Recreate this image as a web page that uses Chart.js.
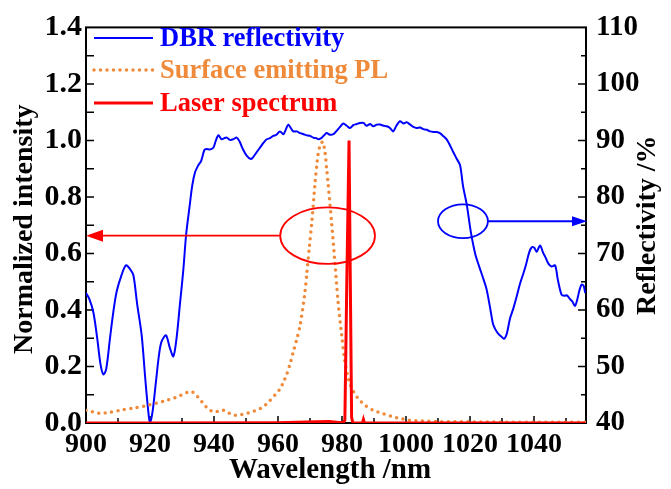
<!DOCTYPE html>
<html>
<head>
<meta charset="utf-8">
<script src="https://cdn.jsdelivr.net/npm/chart.js@4.4.0/dist/chart.umd.min.js"></script>
<style>
    html, body { margin: 0; padding: 0; background: #fff; }
</style>
</head>
<body>
<canvas id="specChart" width="671" height="489"></canvas>
<script>
// Wavelength (nm) / reflectivity (%) of the DBR
const dbrWl = [900, 901, 902.3, 903.5, 904.5, 905.4, 906.3, 907.5, 908.5, 909.6, 911, 912.5, 913.8, 914.8, 916, 917.4, 918.5, 919.3, 920, 920.8,
    921.8, 922.8, 923.6, 925, 926.2, 927.3, 928.3, 929.4, 930.4, 931.3, 932.3, 933.2, 934.1, 935.1, 936, 937, 937.7, 938.7, 939.8, 940.6,
    941.4, 942.4, 943.2, 944, 945, 946, 947.1, 948, 949, 950.2, 951.5, 952.3, 953.3, 954.5, 955.5, 956.5, 957.5, 958.5, 959.5, 960.6,
    961.7, 962.5, 963.2, 964, 964.8, 965.8, 966.9, 968, 969, 970, 971, 972, 972.6, 973.5, 974.4, 975.2, 976.2, 977.3, 978.3, 979.4,
    980.4, 981.5, 982.5, 983.5, 984.6, 985.6, 986.7, 987.7, 988.8, 989.8, 990.9, 991.9, 993, 994, 995, 996, 997, 998.1, 999.2, 1000.2,
    1001.3, 1002.3, 1003.3, 1004.4, 1005.4, 1006.5, 1007.5, 1008.6, 1009.6, 1010.6, 1011.6, 1012.7, 1013.7, 1014.8, 1015.8, 1016.9, 1017.8, 1019, 1020.2, 1021.6,
    1022.8, 1024, 1025.2, 1026.4, 1027.2, 1027.8, 1028.8, 1029.8, 1030.6, 1031.5, 1032.5, 1033.5, 1034.5, 1035.6, 1036.7, 1037.5, 1038.5, 1039.3, 1040.1, 1040.8,
    1041.9, 1042.8, 1043.6, 1044.5, 1045.5, 1046.6, 1047.4, 1048.6, 1049.5, 1050.3, 1051.3, 1052, 1052.8, 1053.5, 1054.2, 1054.9, 1055.5, 1056];
const dbrR = [63, 62, 59.6, 55, 50.5, 48.6, 49.5, 55, 59.5, 63.3, 66, 67.9, 67.2, 66.2, 61, 55.5, 48, 43, 40, 42,
    47, 52, 54.4, 55.5, 53.3, 51.8, 55, 61.3, 67, 73.4, 78, 82, 84.4, 85.6, 86.4, 88.3, 88.5, 88.4, 88.7, 90,
    90.9, 90.2, 90.4, 90.5, 90.1, 90.2, 90.5, 89.8, 88.5, 87.3, 86.7, 87.1, 87.9, 88.8, 89.6, 90.2, 90.4, 90.8, 91, 91.6,
    91.1, 92, 92.8, 92.2, 91.6, 91.6, 91.3, 91.1, 90.9, 90.8, 90.5, 90.4, 90.2, 90.4, 90.9, 91.3, 91, 91.1, 91.7, 92.4,
    93, 92.6, 92.2, 92.7, 92.9, 93.1, 93.1, 92.6, 92.9, 92.5, 92.8, 92.8, 92.6, 92.5, 92.2, 91.6, 92.6, 93.4, 93, 93.2,
    92.8, 92.4, 92.2, 92.3, 92, 91.9, 91.6, 91.5, 91.5, 91.3, 90.8, 90.2, 89.2, 87.9, 86.8, 85.6, 82, 78.6, 74, 70,
    67.8, 65.8, 63.6, 60, 57.5, 56.7, 55.8, 55.3, 54.9, 55.8, 58.5, 60.2, 62.2, 64.6, 66.5, 68, 70.2, 71.1, 71, 70.3,
    71.4, 70.2, 69.3, 68.2, 67.7, 67.9, 65.5, 62.7, 62.5, 62.6, 61.9, 61.5, 60.7, 61.8, 63.5, 64.5, 64.3, 63];

// Surface emitting photoluminescence (normalized)
const plWl = [900, 902, 904.4, 907, 910.6, 915, 919, 922, 925.2, 927.5, 929.4, 931, 932.5, 933.3, 934, 935.3, 936.7, 938, 939.8, 941.5,
    942.9, 944.5, 946, 948, 950.2, 952.5, 954.4, 956, 957.5, 959, 960.6, 961.7, 962.7, 963.8, 964.8, 965.9, 966.9, 968.4, 969, 969.8,
    970.5, 970.8, 971.6, 972.1, 972.6, 973.3, 974, 974.7, 975.2, 975.7, 976.8, 977.8, 978.8, 979.9, 980.9, 981.7, 982.5, 984, 985.6, 987.5,
    989.8, 993, 996, 998.5, 1001, 1005, 1010, 1020, 1030, 1040, 1050, 1056];
const plInt = [0.045, 0.040, 0.034, 0.037, 0.045, 0.053, 0.062, 0.070, 0.080, 0.088, 0.097, 0.105, 0.112, 0.110, 0.103, 0.088, 0.068, 0.052, 0.039, 0.042,
    0.045, 0.036, 0.028, 0.029, 0.034, 0.042, 0.051, 0.063, 0.080, 0.098, 0.120, 0.145, 0.172, 0.210, 0.253, 0.298, 0.345, 0.461, 0.530, 0.623,
    0.703, 0.740, 0.853, 0.910, 0.957, 0.986, 0.995, 0.957, 0.900, 0.842, 0.703, 0.565, 0.426, 0.311, 0.218, 0.170, 0.138, 0.103, 0.080, 0.060,
    0.045, 0.032, 0.022, 0.015, 0.010, 0.007, 0.005, 0.004, 0.003, 0.003, 0.003, 0.003];

// Lasing line (normalized)
const laserWl = [900, 920, 960, 972, 976, 979, 980.5, 980.9, 981.5, 982.2, 982.6, 983.0, 983.4, 986.4, 986.7, 987, 1056];
const laserInt = [0, 0, 0.001, 0.004, 0.005, 0.002, 0.003, 0.01, 0.5, 1.0, 0.5, 0.02, 0, 0, 0.012, 0, 0];

const seriesLabels = ['DBR reflectivity', 'Surface emitting PL', 'Laser spectrum'];
const seriesColors = ['#0000ff', '#ef8a3b', '#ff0000'];

const xTicks = [900, 920, 940, 960, 980, 1000, 1020, 1040];
const yTicks = [0, 0.2, 0.4, 0.6, 0.8, 1.0, 1.2, 1.4];
const rTicks = [40, 50, 60, 70, 80, 90, 100, 110];

// ellipses marking which curve belongs to which axis: [x nm, y, half-width nm, half-height]
const plMark = [975.5, 0.663, 14.8, 0.1];
const dbrMark = [1017.8, 75.7, 7.8, 3.0];

const serif = "'Liberation Serif', 'Times New Roman', serif";

function pts(xs, ys) {
    return xs.map((x, i) => ({ x: x, y: ys[i] }));
}

function fixTicks(list) {
    return scale => { scale.ticks = list.map(v => ({ value: v })); };
}

// frame + inward ticks go under the curves
const frame = {
    id: 'frame',
    beforeDatasetsDraw(chart) {
        const c = chart.ctx;
        const a = chart.chartArea;
        const sx = chart.scales.x, sy = chart.scales.y, sr = chart.scales.yR;
        c.save();
        c.strokeStyle = '#000';
        c.lineWidth = 2;
        c.strokeRect(a.left, a.top, a.right - a.left, a.bottom - a.top);

        c.lineWidth = 1.5;
        c.beginPath();
        for (let v = 910; v <= 1050; v += 10) {
            const px = sx.getPixelForValue(v);
            const len = v % 20 === 0 ? 7 : 5;
            c.moveTo(px, a.bottom); c.lineTo(px, a.bottom - len);
        }
        for (let i = 1; i < 14; i++) {
            const py = sy.getPixelForValue(i / 10);
            c.moveTo(a.left, py); c.lineTo(a.left + 8, py);
        }
        for (let v = 45; v < 110; v += 5) {
            const py = sr.getPixelForValue(v);
            const len = v % 10 === 0 ? 8 : 5;
            c.moveTo(a.right, py); c.lineTo(a.right - len, py);
        }
        c.stroke();
        c.restore();
    }
};

// titles, legend, axis markers
const decor = {
    id: 'decor',
    afterDatasetsDraw(chart) {
        const c = chart.ctx;
        const a = chart.chartArea;
        const sx = chart.scales.x, sy = chart.scales.y, sr = chart.scales.yR;
        c.save();

        // axis titles
        c.fillStyle = '#000';
        c.textAlign = 'center';
        c.textBaseline = 'middle';
        c.font = 'bold 29px ' + serif;
        c.fillText('Wavelength /nm', (a.left + a.right) / 2 - 6, 471);
        c.font = 'bold 28px ' + serif;
        c.save();
        c.translate(25, (a.top + a.bottom) / 2 + 4);
        c.rotate(-Math.PI / 2);
        c.fillText('Normalized intensity', 0, 0);
        c.restore();
        c.save();
        c.translate(648, (a.top + a.bottom) / 2);
        c.rotate(-Math.PI / 2);
        c.fillText('Reflectivity /%', 0, 0);
        c.restore();

        // legend
        const rows = [38, 70, 103];
        chart.data.datasets.forEach((ds, i) => {
            const y = rows[i];
            c.beginPath();
            c.strokeStyle = ds.borderColor;
            c.lineWidth = ds.borderWidth;
            c.lineCap = ds.borderCapStyle || 'butt';
            c.setLineDash(ds.borderDash || []);
            c.moveTo(a.left + 8, y);
            c.lineTo(a.left + 67, y);
            c.stroke();
            c.setLineDash([]);
            c.fillStyle = ds.borderColor;
            c.font = 'bold 26.5px ' + serif;
            c.textAlign = 'left';
            c.textBaseline = 'middle';
            c.fillText(ds.label, a.left + 74, y + 1);
        });

        // ellipse + arrow for the PL curve (left axis)
        c.lineCap = 'butt';
        const ex = sx.getPixelForValue(plMark[0]), ey = sy.getPixelForValue(plMark[1]);
        const erx = sx.getPixelForValue(plMark[0] + plMark[2]) - ex;
        const ery = sy.getPixelForValue(plMark[1] - plMark[3]) - ey;
        c.strokeStyle = '#ff0000';
        c.fillStyle = '#ff0000';
        c.lineWidth = 1.8;
        c.beginPath();
        c.ellipse(ex, ey, erx, ery, 0, 0, Math.PI * 2);
        c.stroke();
        c.beginPath();
        c.moveTo(ex - erx, ey);
        c.lineTo(a.left + 14, ey);
        c.stroke();
        c.beginPath();
        c.moveTo(a.left, ey);
        c.lineTo(a.left + 17, ey - 6);
        c.lineTo(a.left + 17, ey + 6);
        c.closePath();
        c.fill();

        // ellipse + arrow for the DBR curve (right axis)
        const bx = sx.getPixelForValue(dbrMark[0]), by = sr.getPixelForValue(dbrMark[1]);
        const brx = sx.getPixelForValue(dbrMark[0] + dbrMark[2]) - bx;
        const bry = sr.getPixelForValue(dbrMark[1] - dbrMark[3]) - by;
        c.strokeStyle = '#0000ff';
        c.fillStyle = '#0000ff';
        c.lineWidth = 1.8;
        c.beginPath();
        c.ellipse(bx, by, brx, bry, 0, 0, Math.PI * 2);
        c.stroke();
        c.beginPath();
        c.moveTo(bx + brx, by);
        c.lineTo(a.right - 12, by);
        c.stroke();
        c.beginPath();
        c.moveTo(a.right + 1, by);
        c.lineTo(a.right - 14, by - 5);
        c.lineTo(a.right - 14, by + 5);
        c.closePath();
        c.fill();
        c.restore();
    }
};

new Chart(document.getElementById('specChart'), {
    type: 'line',
    data: {
        datasets: [
            {
                label: seriesLabels[0],
                data: pts(dbrWl, dbrR),
                yAxisID: 'yR',
                borderColor: seriesColors[0],
                borderWidth: 2,
                pointRadius: 0,
                tension: 0.3,
                order: 2
            },
            {
                label: seriesLabels[1],
                data: pts(plWl, plInt),
                yAxisID: 'y',
                borderColor: seriesColors[1],
                borderWidth: 3.5,
                borderDash: [0, 6.5],
                borderCapStyle: 'round',
                pointRadius: 0,
                tension: 0.3,
                order: 1
            },
            {
                label: seriesLabels[2],
                data: pts(laserWl, laserInt),
                yAxisID: 'y',
                borderColor: seriesColors[2],
                borderWidth: 3,
                pointRadius: 0,
                tension: 0,
                order: 0
            }
        ]
    },
    options: {
        responsive: false,
        animation: false,
        devicePixelRatio: 1,
        layout: { padding: { top: 19, left: 0, right: 0, bottom: 0 } },
        plugins: {
            legend: { display: false },
            tooltip: { enabled: false }
        },
        scales: {
            x: {
                type: 'linear',
                min: 900,
                max: 1056.25,
                afterBuildTicks: fixTicks(xTicks),
                afterFit: s => { s.height = 66; },
                grid: { display: false, drawTicks: false },
                border: { display: false },
                ticks: {
                    padding: 5,
                    color: '#000',
                    font: { family: serif, size: 28, weight: 'bold' },
                    maxRotation: 0,
                    callback: v => String(v)
                }
            },
            y: {
                position: 'left',
                min: 0,
                max: 1.4,
                afterBuildTicks: fixTicks(yTicks),
                afterFit: s => { s.width = 86; },
                grid: { display: false, drawTicks: false },
                border: { display: false },
                ticks: {
                    padding: 4,
                    color: '#000',
                    font: { family: serif, size: 30, weight: 'bold' },
                    callback: v => v.toFixed(1)
                }
            },
            yR: {
                position: 'right',
                min: 40,
                max: 110,
                afterBuildTicks: fixTicks(rTicks),
                afterFit: s => { s.width = 85; },
                grid: { display: false, drawTicks: false },
                border: { display: false },
                ticks: {
                    padding: 10,
                    color: '#000',
                    font: { family: serif, size: 29, weight: 'bold' }
                }
            }
        }
    },
    plugins: [frame, decor]
});
</script>
</body>
</html>
